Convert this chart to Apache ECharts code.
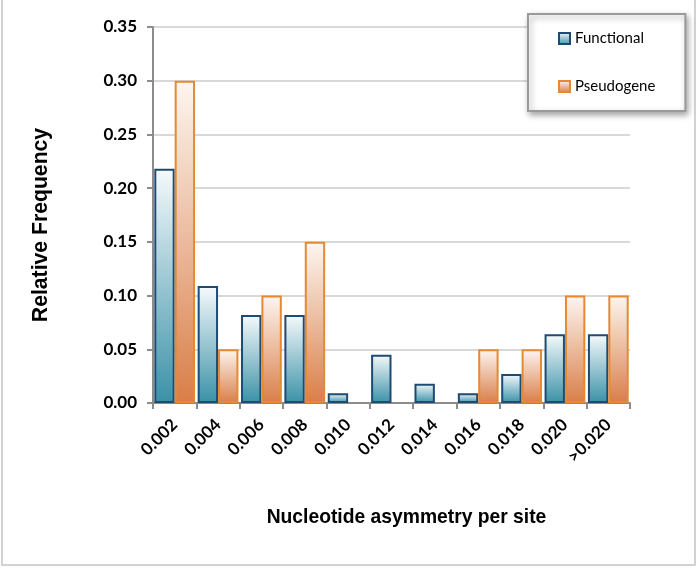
<!DOCTYPE html>
<html><head><meta charset="utf-8">
<script src="https://cdn.jsdelivr.net/npm/echarts@6/dist/echarts.min.js"></script>
<style>html,body{margin:0;padding:0;background:#fff}#c{width:698px;height:569px}</style>
</head><body><div id="c"></div>
<script>
var categories = ['0.002','0.004','0.006','0.008','0.010','0.012','0.014','0.016','0.018','0.020','>0.020'];
var functional = [0.218,0.109,0.082,0.082,0.009,0.045,0.018,0.009,0.027,0.064,0.064];
var pseudogene = [0.30,0.05,0.10,0.15,0,0,0,0.05,0.05,0.10,0.10];
var yTicks = [0,0.05,0.10,0.15,0.20,0.25,0.30,0.35];

function noZero(arr){return arr.map(function(v){return v===0?'-':v;});}
var chart = echarts.init(document.getElementById('c'));
function grad(a,b){return {type:'linear',x:0,y:0,x2:0,y2:1,colorStops:[{offset:0,color:a},{offset:1,color:b}]};}
chart.setOption({
  animation:false,
  graphic:[{type:'rect',shape:{x:2,y:-2,width:693,height:567},style:{fill:'none',stroke:'#c4c4c4',lineWidth:1.5},silent:true,z:-1}],
  legend:{
    orient:'vertical',left:528,top:14,
    padding:[17,30,17,30],itemGap:33,itemWidth:11,itemHeight:11,icon:'rect',
    borderColor:'#9a9a9a',borderWidth:2,backgroundColor:'#fff',
    shadowColor:'rgba(0,0,0,0.35)',shadowBlur:6,shadowOffsetX:2,shadowOffsetY:3,
    textStyle:{fontFamily:'Lato',fontSize:15,color:'#000'},
    data:['Functional','Pseudogene']
  },
  grid:{left:153,right:68,top:27,bottom:166},
  xAxis:{
    type:'category',data:categories,
    name:'Nucleotide asymmetry per site',nameLocation:'middle',nameGap:105,
    nameTextStyle:{fontFamily:'Liberation Sans',fontWeight:'bold',fontSize:19.3,color:'#000',padding:[0,0,0,30]},
    axisLine:{lineStyle:{color:'#8c8c8c',width:2}},
    axisTick:{show:true,length:6,lineStyle:{color:'#8c8c8c',width:2}},
    axisLabel:{rotate:45,interval:0,fontFamily:'Lato',fontWeight:'bold',fontSize:17,color:'#000',margin:19}
  },
  yAxis:{
    type:'value',min:0,max:0.35,interval:0.05,
    name:'Relative Frequency',nameLocation:'middle',nameGap:101,
    nameTextStyle:{fontFamily:'Liberation Sans',fontWeight:'bold',fontSize:21.2,color:'#000',padding:[0,20,0,0]},
    axisLine:{show:true,lineStyle:{color:'#8c8c8c',width:2}},
    axisTick:{show:true,length:6,lineStyle:{color:'#8c8c8c',width:2}},
    splitLine:{lineStyle:{color:'#d9d9d9',width:2}},
    axisLabel:{fontFamily:'Lato',fontWeight:'bold',fontSize:17,color:'#000',margin:16,
      formatter:function(v){return v.toFixed(2);}}
  },
  series:[
    {name:'Functional',type:'bar',data:noZero(functional),barGap:'0%',barCategoryGap:'6%',
     itemStyle:{color:grad('#f6fafc','#3a91a7'),borderColor:'#1e4b74',borderWidth:2}},
    {name:'Pseudogene',type:'bar',data:noZero(pseudogene),
     itemStyle:{color:grad('#fdf6f1','#d97e48'),borderColor:'#e48a32',borderWidth:2}}
  ]
});
</script></body></html>
